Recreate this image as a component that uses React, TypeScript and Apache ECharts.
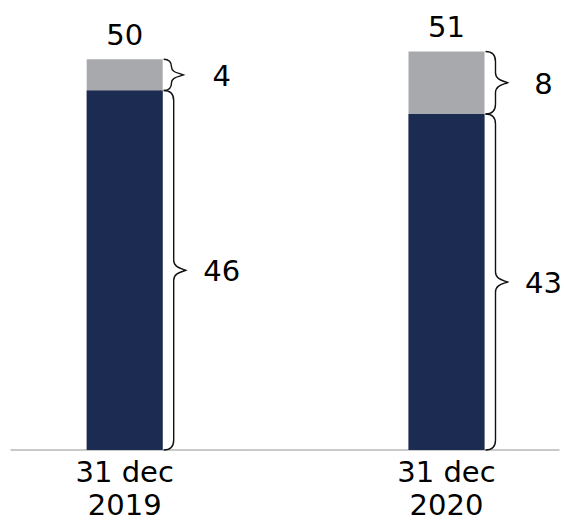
import React, { useEffect, useRef } from "react";
import * as echarts from "echarts";

// Balance split per reporting date
const categories = ["31 dec\n2019", "31 dec\n2020"];
const baseValues = [46, 43];
const topValues = [4, 8];

const FONT = "'DejaVu Sans', Verdana, sans-serif";
const NAVY = "#1b2b52";
const GREY = "#a8a9ad";
const BAR_WIDTH = 76;

export default function App() {
  const ref = useRef<HTMLDivElement>(null);

  useEffect(() => {
    if (!ref.current) return;
    const chart = echarts.init(ref.current, null, { renderer: "svg" });

    const totals = baseValues.map((v, i) => v + topValues[i]);

    // segments as [x, from, to] for the brace annotations
    const segments: number[][] = [];
    baseValues.forEach((v, i) => {
      segments.push([i, 0, v]);
      segments.push([i, v, v + topValues[i]]);
    });

    const option: any = {
      animation: false,
      backgroundColor: "#ffffff",
      grid: {
        left: 11,
        right: 5,
        top: 12.4,
        bottom: 72,
        containLabel: false,
        outerBoundsMode: "none",
      },
      xAxis: {
        type: "value",
        min: -0.3533,
        max: 1.3496,
        splitLine: { show: false },
        axisTick: { show: false },
        axisLine: { show: true, lineStyle: { color: "#b8b8b8", width: 1.5 } },
        axisLabel: {
          customValues: [0, 1],
          formatter: (v: number) => {
            const lines = (categories[Math.round(v)] ?? "").split("\n");
            return `{l1|${lines[0]}}\n{l2|${lines[1] ?? ""}}`;
          },
          fontFamily: FONT,
          fontSize: 29,
          color: "#000",
          margin: 5,
          rich: {
            l1: { fontFamily: FONT, fontSize: 29, color: "#000", lineHeight: 34 },
            l2: { fontFamily: FONT, fontSize: 29, color: "#000", lineHeight: 32 },
          },
        },
      },
      yAxis: {
        type: "value",
        min: 0,
        max: 56,
        show: false,
      },
      series: [
        {
          // full column (grey top segment shows above the navy part)
          type: "bar",
          barWidth: BAR_WIDTH,
          barGap: "-100%",
          itemStyle: { color: GREY },
          data: totals.map((v, i) => [i, v]),
          label: {
            show: true,
            position: "top",
            distance: 10,
            fontFamily: FONT,
            fontSize: 29,
            lineHeight: 29,
            color: "#000",
            formatter: (p: any) => String(totals[p.dataIndex]),
          },
          z: 1,
        },
        {
          type: "bar",
          barWidth: BAR_WIDTH,
          barGap: "-100%",
          itemStyle: { color: NAVY },
          data: baseValues.map((v, i) => [i, v]),
          z: 2,
        },
        {
          type: "custom",
          clip: false,
          data: segments,
          encode: { x: 0, y: [1, 2] },
          z: 3,
          renderItem: (_params: any, api: any) => {
            const x = api.value(0);
            const from = api.value(1);
            const to = api.value(2);
            const pTop = api.coord([x, to]);
            const pBot = api.coord([x, from]);
            const xr = pTop[0] + BAR_WIDTH / 2 + 1;
            const yT = pTop[1];
            const yB = pBot[1];
            const h = yB - yT;
            const r = Math.min(10, h / 4);
            const xv = xr + r;
            const xt = xv + 12;
            const mid = (yT + yB) / 2;
            const d =
              `M${xr},${yT} Q${xv},${yT} ${xv},${yT + r} ` +
              `L${xv},${mid - r} ` +
              `C${xv},${mid - r * 0.3} ${xt - 5},${mid - 2} ${xt},${mid} ` +
              `C${xt - 5},${mid + 2} ${xv},${mid + r * 0.3} ${xv},${mid + r} ` +
              `L${xv},${yB - r} Q${xv},${yB} ${xr},${yB}`;
            return {
              type: "group",
              children: [
                {
                  type: "path",
                  shape: { pathData: d },
                  style: { fill: "none", stroke: "#111", lineWidth: 1.4 },
                },
                {
                  type: "text",
                  x: xr + 58,
                  y: mid + 1,
                  style: {
                    text: String(to - from),
                    fontFamily: FONT,
                    fontSize: 29,
                    fill: "#000",
                    align: "center",
                    verticalAlign: "middle",
                  },
                },
              ],
            };
          },
        },
      ],
    };

    chart.setOption(option);
    return () => chart.dispose();
  }, []);

  return (
    <div
      ref={ref}
      style={{ position: "absolute", left: 0, top: 0, width: 564, height: 522 }}
    />
  );
}
